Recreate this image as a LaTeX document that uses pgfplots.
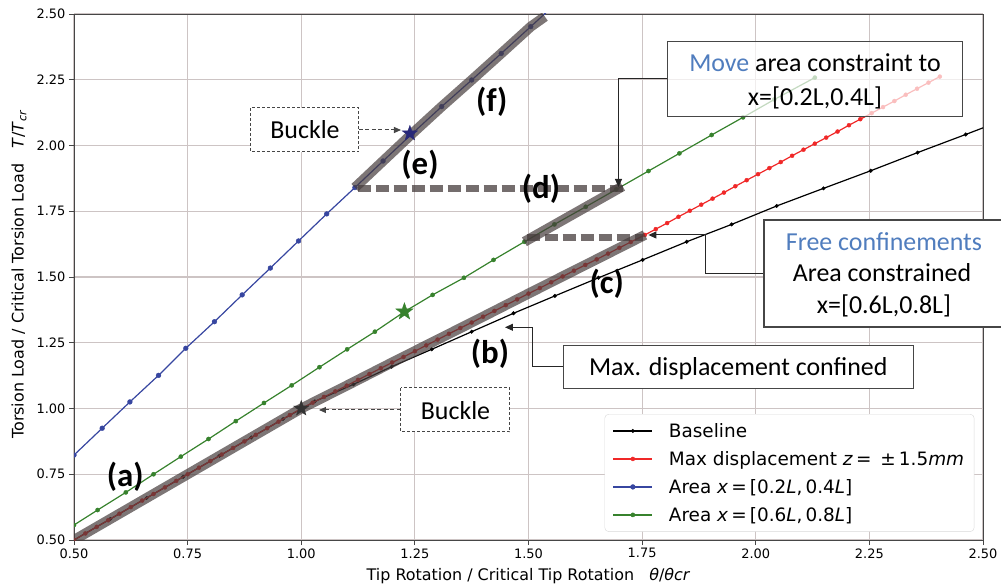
\documentclass[border=0pt]{standalone}
\usepackage{fontspec}
\setmainfont{DejaVu Sans}
\newfontfamily\carl{Carlito}
\usepackage{pgfplots}
\pgfplotsset{compat=1.18}
\usetikzlibrary{arrows.meta}

\definecolor{cblue}{RGB}{55,70,160}
\definecolor{cgreen}{RGB}{55,130,45}
\definecolor{cred}{RGB}{240,40,40}
\definecolor{hl}{RGB}{70,60,60}
\definecolor{gridc}{RGB}{205,196,196}
\definecolor{axc}{RGB}{70,70,70}
\definecolor{sblue}{RGB}{80,125,190}
\definecolor{navy}{RGB}{40,40,120}

\pgfdeclareplotmark{fstar}{%
 \pgfpathmoveto{\pgfpointpolar{90}{\pgfplotmarksize}}%
 \pgfpathlineto{\pgfpointpolar{126}{0.4*\pgfplotmarksize}}%
 \pgfpathlineto{\pgfpointpolar{162}{\pgfplotmarksize}}%
 \pgfpathlineto{\pgfpointpolar{198}{0.4*\pgfplotmarksize}}%
 \pgfpathlineto{\pgfpointpolar{234}{\pgfplotmarksize}}%
 \pgfpathlineto{\pgfpointpolar{270}{0.4*\pgfplotmarksize}}%
 \pgfpathlineto{\pgfpointpolar{306}{\pgfplotmarksize}}%
 \pgfpathlineto{\pgfpointpolar{342}{0.4*\pgfplotmarksize}}%
 \pgfpathlineto{\pgfpointpolar{18}{\pgfplotmarksize}}%
 \pgfpathlineto{\pgfpointpolar{54}{0.4*\pgfplotmarksize}}%
 \pgfpathclose\pgfusepathqfillstroke}

\begin{document}
\begin{tikzpicture}
\begin{axis}[
  at={(0,0)}, anchor=south west,
  scale only axis, width=909bp, height=526bp,
  xmin=0.5, xmax=2.5, ymin=0.5, ymax=2.5,
  xtick={0.5,0.75,1.0,1.25,1.5,1.75,2.0,2.25,2.5},
  ytick={0.5,0.75,1.0,1.25,1.5,1.75,2.0,2.25,2.5},
  xtick pos=bottom, ytick pos=left,
  tick align=outside, major tick length=5bp,
  tick style={draw=axc, line width=0.8bp},
  axis line style={draw=axc, line width=0.8bp},
  grid=major, major grid style={draw=gridc, line width=1.1bp},
  ticklabel style={font=\fontsize{13}{15}\selectfont},
  xticklabel style={/pgf/number format/fixed,/pgf/number format/fixed zerofill,/pgf/number format/precision=2},
  yticklabel style={/pgf/number format/fixed,/pgf/number format/fixed zerofill,/pgf/number format/precision=2},
  /pgf/number format/assume math mode=true,
  label style={font=\fontsize{16}{18}\selectfont},
  xlabel={Tip Rotation / Critical Tip Rotation~~~\textit{θ}/\textit{θcr}},
  ylabel={Torsion Load / Critical Torsion Load~~~\textit{T}/\textit{T}\textsubscript{\textit{cr}}},
  xlabel style={at={(axis description cs:0.5,-0.0684)}, anchor=center},
  ylabel style={at={(axis description cs:-0.0605,0.505)}, anchor=center},
  clip marker paths=true,
  legend cell align=left,
  legend style={at={(0.9905,0.2395)}, anchor=north east, draw=gray!30, rounded corners=4bp,
    fill=white, font=\fontsize{18.5}{21}\selectfont, inner xsep=8bp, inner ysep=7bp,
    row sep=8.5bp, column sep=14bp},
  legend image code/.code={\draw[mark repeat=2,mark phase=2,#1] plot coordinates {(0bp,0bp) (19.5bp,0bp) (39bp,0bp)};},
]
% Baseline
\addplot[black, line width=1.2bp, mark=*, mark size=1.8bp, mark options={solid,line width=0.4bp}] coordinates {
(0.50,0.50)(0.58,0.58)(0.66,0.66)(0.74,0.74)(0.82,0.82)(0.89,0.89)(0.96,0.96)(1.03,1.027)
(1.115,1.092)(1.199,1.159)(1.287,1.225)(1.375,1.292)(1.467,1.362)(1.558,1.428)(1.654,1.497)
(1.751,1.565)(1.848,1.634)(1.947,1.700)(2.046,1.770)(2.149,1.837)(2.253,1.904)(2.356,1.973)
(2.462,2.042)(2.565,2.110)};
\addlegendentry{Baseline}
% Max displacement
\addplot[cred, line width=1.2bp, mark=*, mark size=2bp, mark options={solid,line width=0.4bp}] coordinates {
(0.500,0.500)(0.525,0.525)(0.550,0.550)(0.575,0.575)(0.600,0.600)(0.625,0.625)(0.650,0.650)
(0.675,0.675)(0.700,0.700)(0.725,0.725)(0.750,0.750)(0.775,0.775)(0.800,0.800)(0.825,0.825)
(0.850,0.850)(0.875,0.875)(0.900,0.900)(0.925,0.925)(0.950,0.950)(0.975,0.975)(1.000,1.000)
(1.025,1.022)(1.050,1.044)(1.075,1.065)(1.100,1.087)(1.125,1.109)(1.150,1.131)(1.175,1.153)
(1.200,1.175)(1.225,1.196)(1.250,1.218)(1.275,1.240)(1.300,1.262)(1.325,1.284)(1.350,1.306)
(1.375,1.327)(1.400,1.349)(1.425,1.371)(1.450,1.393)(1.475,1.415)(1.500,1.437)(1.525,1.458)
(1.550,1.480)(1.575,1.502)(1.600,1.524)(1.625,1.546)(1.650,1.567)(1.675,1.589)(1.700,1.611)
(1.725,1.633)(1.756,1.660)(1.780,1.682)(1.805,1.705)(1.830,1.729)(1.855,1.752)(1.880,1.775)
(1.905,1.798)(1.930,1.821)(1.955,1.845)(1.980,1.868)(2.005,1.891)(2.030,1.914)(2.055,1.937)
(2.080,1.961)(2.105,1.984)(2.130,2.007)(2.155,2.030)(2.180,2.053)(2.205,2.077)(2.230,2.100)
(2.255,2.123)(2.280,2.146)(2.305,2.169)(2.330,2.193)(2.355,2.216)(2.380,2.239)(2.405,2.262)};
\addlegendentry{Max displacement \textit{z}\,= \,±\,1.5\textit{mm}}
% Area 0.2-0.4
\addplot[cblue, line width=1.2bp, mark=*, mark size=2.4bp, mark options={solid,line width=0.4bp}] coordinates {
(0.500,0.823)(0.562,0.925)(0.623,1.025)(0.686,1.126)(0.746,1.229)(0.809,1.330)(0.870,1.432)
(0.932,1.534)(0.994,1.637)(1.056,1.740)(1.118,1.840)(1.180,1.941)(1.244,2.045)(1.309,2.148)
(1.375,2.249)(1.440,2.350)(1.505,2.452)(1.570,2.555)};
\addlegendentry{Area \textit{x}\,=\,[0.2\textit{L},\,0.4\textit{L}]}
% Area 0.6-0.8
\addplot[cgreen, line width=1.2bp, mark=*, mark size=2.1bp, mark options={solid,line width=0.4bp}] coordinates {
(0.500,0.557)(0.552,0.614)(0.614,0.681)(0.675,0.750)(0.735,0.817)(0.796,0.884)(0.856,0.952)
(0.918,1.021)(0.979,1.088)(1.040,1.157)(1.101,1.225)(1.162,1.292)(1.227,1.368)(1.289,1.432)
(1.358,1.497)(1.423,1.565)(1.491,1.634)(1.557,1.700)(1.626,1.767)(1.693,1.833)(1.764,1.903)
(1.832,1.970)(1.903,2.040)(1.972,2.107)(2.041,2.175)(2.130,2.258)};
\addlegendentry{Area \textit{x}\,=\,[0.6\textit{L},\,0.8\textit{L}]}
% highlights
\addplot[hl, opacity=0.7, line width=10bp, line join=round, forget plot] coordinates {
(0.500,0.500)(1.000,1.000)(1.100,1.087)(1.200,1.175)(1.300,1.262)(1.400,1.349)(1.500,1.437)
(1.600,1.524)(1.700,1.611)(1.756,1.660)};
\addplot[hl, opacity=0.7, line width=10bp, forget plot] coordinates {(1.491,1.634)(1.707,1.845)};
\addplot[hl, opacity=0.7, line width=10bp, line join=round, forget plot] coordinates {
(1.118,1.840)(1.180,1.941)(1.244,2.045)(1.309,2.148)(1.375,2.249)(1.440,2.350)(1.505,2.452)(1.536,2.490)};
\addplot[hl, opacity=0.75, line width=7bp, dash pattern=on 13bp off 5bp, forget plot] coordinates {(1.124,1.837)(1.707,1.837)};
\addplot[hl, opacity=0.75, line width=7bp, dash pattern=on 13bp off 5bp, forget plot] coordinates {(1.496,1.650)(1.753,1.650)};
% buckle stars
\addplot[only marks, mark=fstar, mark size=8bp, draw=black!80, fill=black!80, forget plot] coordinates {(1.0,1.0)};
\addplot[only marks, mark=fstar, mark size=9bp, draw=cgreen, fill=cgreen, forget plot] coordinates {(1.227,1.368)};
\addplot[only marks, mark=fstar, mark size=8bp, draw=navy, fill=navy, forget plot] coordinates {(1.239,2.046)};
\end{axis}
\begin{scope}[x=1bp,y=-1bp,shift={(-74bp,540bp)}]
 \tikzset{ann/.style={font=\carl\fontsize{26}{30}\selectfont, anchor=base, inner sep=0pt},
          lab/.style={font=\carl\bfseries\fontsize{33}{36}\selectfont, anchor=center, inner sep=0pt}}
 % connectors
 \draw[black!85, line width=1bp, -{Triangle[length=8bp,width=7bp]}] (667.6,78.3) -- (618.5,78.3) -- (618.5,187);
 \draw[black!85, line width=1bp, -{Triangle[length=8bp,width=7bp]}] (764,273.3) -- (705.2,273.3) -- (705.2,235) -- (648.4,235);
 \draw[black!85, line width=1bp, -{Triangle[length=8bp,width=7bp]}] (563.3,367) -- (532.3,367) -- (532.3,327.3) -- (505,327.3);
 \draw[axc, line width=1bp, dash pattern=on 4bp off 2.5bp, -{Triangle[length=7bp,width=6bp]}] (401,410) -- (319,410);
 \draw[axc, line width=1bp, dash pattern=on 4bp off 2.5bp, -{Triangle[length=7bp,width=6bp]}] (359,130) -- (401,130);
 % boxes
 \draw[axc, line width=1bp, dash pattern=on 3bp off 2bp, fill=white] (401,388) rectangle (510,432);
 \draw[axc, line width=1bp, dash pattern=on 3bp off 2bp, fill=white] (251,108) rectangle (359,152);
 \draw[axc, line width=1.5bp, fill=white, fill opacity=0.7] (667.6,41.7) rectangle (962.5,116.7);
 \fill[white] (764,220) rectangle (1010,327);
 \draw[axc, line width=1.5bp] (1010,220) -- (764,220) -- (764,327) -- (1010,327);
 \draw[axc, line width=1.5bp, fill=white] (563.3,345.7) rectangle (913.3,388.3);
 % texts
 \node[ann] at (455.5,419.5) {Buckle};
 \node[ann] at (305,138.5) {Buckle};
 \node[ann] at (815,71.5) {\textcolor{sblue}{Move} area constraint to};
 \node[ann] at (815,105.5) {x=[0.2L,0.4L]};
 \node[ann, text=sblue] at (884,250.5) {Free confinements};
 \node[ann] at (882,281.5) {Area constrained};
 \node[ann] at (884,313.5) {x=[0.6L,0.8L]};
 \node[ann] at (738.3,375.5) {Max. displacement confined};
 \node[lab] at (125.3,477) {(a)};
 \node[lab] at (490,354) {(b)};
 \node[lab] at (606.7,284) {(c)};
 \node[lab] at (541,189) {(d)};
 \node[lab] at (420,165) {(e)};
 \node[lab] at (491.7,101.7) {(f)};
\end{scope}
\pgfresetboundingbox
\useasboundingbox (-74bp,-46bp) rectangle (927bp,540bp);
\end{tikzpicture}
\end{document}
